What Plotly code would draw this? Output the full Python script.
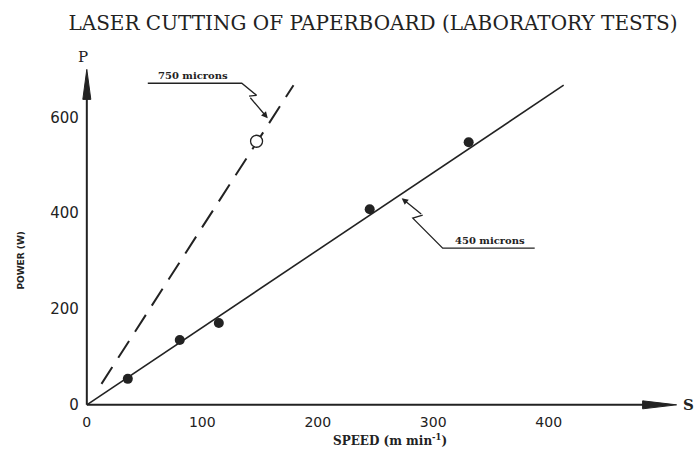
import plotly.graph_objects as go

# ---- data ----
speed_450 = [35.5, 80.5, 114.3, 245.0, 330.7]        # m/min
power_450 = [54.2, 135.4, 170.8, 408.0, 548.0]       # W
fit_450_x = [0, 413]
fit_450_y = [0, 667]

speed_750 = [147.0]
power_750 = [550.0]
fit_750_x = [12.7, 179]
fit_750_y = [43.75, 667]

x_ticks = [0, 100, 200, 300, 400]
y_ticks = [0, 200, 400, 600]

title_text = "LASER CUTTING OF PAPERBOARD (LABORATORY TESTS)"
x_title = "SPEED (m min<sup>-1</sup>)"
y_title = "POWER (W)"
label_750 = "750 microns"
label_450 = "450 microns"

INK = "#222222"

fig = go.Figure()

# fitted lines
fig.add_trace(go.Scatter(x=fit_450_x, y=fit_450_y, mode="lines",
                         line=dict(color=INK, width=1.6), showlegend=False, hoverinfo="skip"))
fig.add_trace(go.Scatter(x=fit_750_x, y=fit_750_y, mode="lines",
                         line=dict(color=INK, width=2, dash="20px,11px"), showlegend=False, hoverinfo="skip"))
# points
fig.add_trace(go.Scatter(x=speed_450, y=power_450, mode="markers",
                         marker=dict(color=INK, size=10, line=dict(width=0)), showlegend=False))
fig.add_trace(go.Scatter(x=speed_750, y=power_750, mode="markers",
                         marker=dict(color="white", size=12, line=dict(color=INK, width=1.3)), showlegend=False))

# leader polylines (underline + zigzag)
fig.add_trace(go.Scatter(x=[52.8, 134.2, 147.0, 140.5], y=[671, 671, 646, 644], mode="lines",
                         line=dict(color=INK, width=1.3), showlegend=False, hoverinfo="skip"))
fig.add_trace(go.Scatter(x=[387.9, 308.2, 282.3, 290.9], y=[327, 327, 389.6, 395.8], mode="lines",
                         line=dict(color=INK, width=1.3), showlegend=False, hoverinfo="skip"))

shapes = [
    # axes lines
    dict(type="line", xref="x", yref="y", x0=0, y0=0, x1=485, y1=0, line=dict(color=INK, width=2)),
    dict(type="line", xref="x", yref="y", x0=0, y0=0, x1=0, y1=660, line=dict(color=INK, width=2)),
    # arrow heads
    dict(type="path", xref="x", yref="y", xsizemode="pixel", ysizemode="pixel",
         xanchor=510.8, yanchor=0, path="M0,0 L-34,4 L-34,-4 Z",
         fillcolor=INK, line=dict(color=INK, width=1)),
    dict(type="path", xref="x", yref="y", xsizemode="pixel", ysizemode="pixel",
         xanchor=0, yanchor=700, path="M0,0 L-4,-30 L4,-30 Z",
         fillcolor=INK, line=dict(color=INK, width=1)),
]

annotations = [
    # zigzag arrow tips
    dict(x=156.7, y=598, ax=140.5, ay=644, xref="x", yref="y", axref="x", ayref="y",
         text="", showarrow=True, arrowhead=2, arrowsize=1, arrowwidth=1.3, arrowcolor=INK),
    dict(x=272.7, y=431.2, ax=290.9, ay=395.8, xref="x", yref="y", axref="x", ayref="y",
         text="", showarrow=True, arrowhead=2, arrowsize=1, arrowwidth=1.3, arrowcolor=INK),
    # labels
    dict(x=92.2, y=687, xref="x", yref="y", text="<b>" + label_750 + "</b>", showarrow=False,
         font=dict(family="DejaVu Serif", size=10, color=INK)),
    dict(x=348.9, y=342, xref="x", yref="y", text="<b>" + label_450 + "</b>", showarrow=False,
         font=dict(family="DejaVu Serif", size=10, color=INK)),
    # axis letters
    dict(x=-3, y=730, xref="x", yref="y", text="P", showarrow=False, yshift=-2,
         font=dict(family="DejaVu Serif", size=15, color=INK)),
    dict(x=521, y=0, xref="x", yref="y", text="<b>S</b>", showarrow=False,
         font=dict(family="DejaVu Serif", size=15, color=INK)),
    # axis titles
    dict(x=263, y=(-73 + 40) / 770, xref="x", yref="paper", yanchor="middle", xanchor="center",
         text="<b>" + x_title + "</b>", showarrow=False,
         font=dict(family="DejaVu Serif", size=12, color=INK)),
    dict(x=-57, y=301, xref="x", yref="y", text="<b>" + y_title + "</b>", showarrow=False,
         textangle=-90, font=dict(family="DejaVu Sans", size=9, color=INK)),
]

fig.update_layout(
    width=698, height=451,
    margin=dict(l=6, r=5, t=55, b=27),
    paper_bgcolor="white", plot_bgcolor="white",
    title=dict(text=title_text, x=373 / 698, xref="container", y=1 - 23 / 451, yref="container",
               xanchor="center", yanchor="middle",
               font=dict(family="DejaVu Serif", size=20, color=INK)),
    xaxis=dict(range=[-70, 525], showgrid=False, zeroline=False, showline=False, ticks="",
               tickvals=x_ticks, ticktext=[str(v) for v in x_ticks], anchor="free", position=40 / 770,
               automargin=False,
               tickfont=dict(family="DejaVu Sans", size=14, color=INK), ticklabelstandoff=7),
    yaxis=dict(range=[-40, 730], showgrid=False, zeroline=False, showline=False, ticks="",
               tickvals=y_ticks, ticktext=[str(v) for v in y_ticks], anchor="free", position=70 / 595,
               automargin=False,
               tickfont=dict(family="DejaVu Sans", size=15, color=INK), ticklabelstandoff=8),
    shapes=shapes, annotations=annotations,
)

fig.write_html("out.html", config={"displayModeBar": False},
               post_script="document.body.style.margin='0';")
